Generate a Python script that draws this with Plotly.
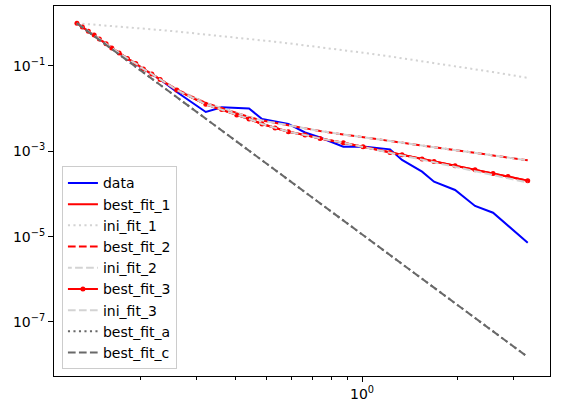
import plotly.graph_objects as go

x = [0.126, 0.1311, 0.1369, 0.1428, 0.1483, 0.1557, 0.1623, 0.1712, 0.1818, 0.1932,
     0.2042, 0.2171, 0.2306, 0.2603, 0.3213, 0.3608, 0.4025, 0.4400, 0.4836, 0.5316,
     0.5854, 0.6609, 0.7373, 0.8730, 1.0073, 1.2255, 1.3371, 1.5464, 1.6870, 1.9656,
     2.2726, 2.5900, 2.8877, 3.3322]

data = [1.0, 0.806, 0.642, 0.523, 0.422, 0.327, 0.259, 0.198, 0.147, 0.111,
        0.0827, 0.0631, 0.0482, 0.0245, 0.00834, 0.01075, 0.01046, 0.01002, 0.00572, 0.00500,
        0.00437, 0.00276, 0.00211, 0.00128, 0.00130, 0.00111, 0.000626, 0.000333, 0.000194, 0.000124,
        5.23e-5, 3.64e-5, 1.78e-5, 7.21e-6]

best_fit_1 = [1.0, 0.819, 0.653, 0.532, 0.429, 0.331, 0.264, 0.201, 0.150, 0.114,
              0.0849, 0.0648, 0.0482, 0.0273, 0.0126, 0.00954, 0.00710, 0.00572, 0.00437, 0.00352,
              0.00288, 0.00241, 0.00200, 0.00159, 0.00128, 0.000943, 0.000828, 0.000660, 0.000580, 0.000460,
              0.000369, 0.000302, 0.000255, 0.000205]

ini_fit_1 = [1.0, 0.979, 0.956, 0.934, 0.914, 0.889, 0.868, 0.841, 0.811, 0.780,
             0.754, 0.724, 0.696, 0.641, 0.551, 0.505, 0.464, 0.432, 0.399, 0.369,
             0.339, 0.305, 0.276, 0.235, 0.204, 0.167, 0.152, 0.130, 0.118, 0.0996,
             0.0840, 0.0719, 0.0629, 0.0526]

best_fit_2 = [1.0, 0.819, 0.653, 0.532, 0.429, 0.331, 0.264, 0.201, 0.150, 0.114,
              0.0849, 0.0648, 0.0487, 0.0281, 0.0136, 0.0102, 0.00790, 0.00637, 0.00527, 0.00461,
              0.00403, 0.00342, 0.00299, 0.00248, 0.00213, 0.00173, 0.00158, 0.00136, 0.00124, 0.00106,
              0.000913, 0.000798, 0.000716, 0.000615]

ini_fit_2 = list(best_fit_2)

best_fit_3 = list(best_fit_1)

ini_fit_3 = [1.0, 0.819, 0.653, 0.532, 0.429, 0.331, 0.264, 0.201, 0.150, 0.114,
             0.0849, 0.0648, 0.0482, 0.0273, 0.0126, 0.00954, 0.00710, 0.00572, 0.00437, 0.00352,
             0.00288, 0.00241, 0.00200, 0.00159, 0.00126, 0.000918, 0.000802, 0.000632, 0.000553, 0.000434,
             0.000344, 0.000279, 0.000233, 0.000185]

x_ac = [0.126, 3.3322]
best_fit_a = [1.0, 1.51e-8]
best_fit_c = [1.0, 1.51e-8]

RED = "#ff0000"
LGRAY = "#d3d3d3"
DGRAY = "#696969"
DASH = "7.7px,3.3px"
DOT = "2.1px,3.4px"

fig = go.Figure()
fig.add_trace(go.Scatter(x=x, y=data, name="data", mode="lines",
                         line=dict(color="#0000ff", width=2)))
fig.add_trace(go.Scatter(x=x, y=best_fit_1, name="best_fit_1", mode="lines",
                         line=dict(color=RED, width=2)))
fig.add_trace(go.Scatter(x=x, y=ini_fit_1, name="ini_fit_1", mode="lines",
                         line=dict(color=LGRAY, width=2, dash=DOT)))
fig.add_trace(go.Scatter(x=x, y=best_fit_2, name="best_fit_2", mode="lines",
                         line=dict(color=RED, width=2, dash=DASH)))
fig.add_trace(go.Scatter(x=x, y=ini_fit_2, name="ini_fit_2", mode="lines",
                         line=dict(color=LGRAY, width=2, dash="3.85px,3.3px,3.85px,0px")))
fig.add_trace(go.Scatter(x=x, y=best_fit_3, name="best_fit_3", mode="lines+markers",
                         line=dict(color=RED, width=2),
                         marker=dict(color=RED, size=5, symbol="circle")))
fig.add_trace(go.Scatter(x=x, y=ini_fit_3, name="ini_fit_3", mode="lines",
                         line=dict(color=LGRAY, width=2, dash=DASH)))
fig.add_trace(go.Scatter(x=x_ac, y=best_fit_a, name="best_fit_a", mode="lines",
                         line=dict(color=DGRAY, width=2, dash=DOT)))
fig.add_trace(go.Scatter(x=x_ac, y=best_fit_c, name="best_fit_c", mode="lines",
                         line=dict(color=DGRAY, width=2, dash=DASH)))

axis_common = dict(showline=True, linecolor="black", linewidth=1, mirror=True,
                   ticks="outside", ticklen=5, tickwidth=1, tickcolor="black",
                   showgrid=False, zeroline=False,
                   tickfont=dict(family="DejaVu Sans", size=14, color="black"))

fig.update_xaxes(type="log", range=[-0.972, 0.593],
                 tickvals=[1.0], ticktext=["10<sup>0</sup>"],
                 minor=dict(tickvals=[0.2, 0.3, 0.4, 0.5, 0.6, 0.7, 0.8, 0.9, 2, 3],
                            ticks="outside", ticklen=3, tickwidth=1, tickcolor="black",
                            showgrid=False),
                 **axis_common)
fig.update_yaxes(type="log", range=[-8.266, 0.405],
                 tickvals=[1e-7, 1e-5, 1e-3, 1e-1],
                 ticktext=["10<sup>−7</sup>", "10<sup>−5</sup>", "10<sup>−3</sup>", "10<sup>−1</sup>"],
                 **axis_common)

fig.update_layout(
    width=562, height=408,
    margin=dict(l=54, r=12, t=6, b=32),
    paper_bgcolor="white", plot_bgcolor="white",
    font=dict(family="DejaVu Sans", size=14, color="black"),
    showlegend=True,
    hovermode=False,
    legend=dict(x=0.016, y=0.018, xanchor="left", yanchor="bottom",
                bgcolor="rgba(255,255,255,0.8)", bordercolor="#cccccc", borderwidth=1,
                font=dict(family="DejaVu Sans", size=14, color="black"),
                itemwidth=30, tracegroupgap=0),
)

fig.write_html("out.html",
               config={"displayModeBar": False, "staticPlot": True},
               post_script="document.body.style.margin='0';document.body.style.overflow='hidden';")
